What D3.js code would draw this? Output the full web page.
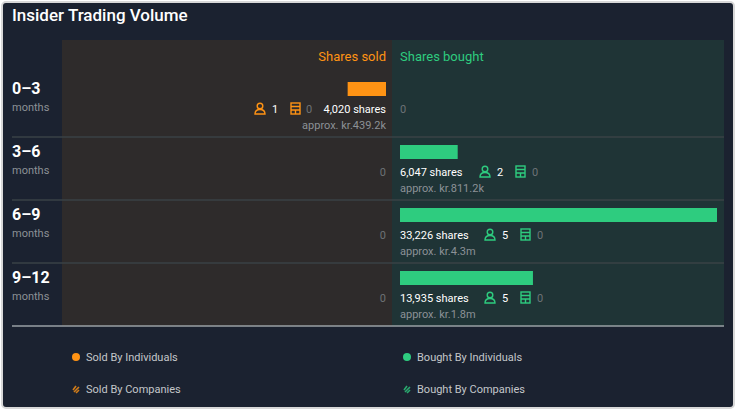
<!DOCTYPE html>
<html><head><meta charset="utf-8">
<script src="https://cdn.jsdelivr.net/npm/d3@7"></script>
<style>
body{margin:0;background:#fff;font-family:Roboto,"Noto Sans",sans-serif;}
</style></head><body>
<svg id="chart" width="736" height="412"></svg>
<script>
const periods = ["0–3", "3–6", "6–9", "9–12"];
const soldShares = [4020, 0, 0, 0];
const boughtShares = [0, 6047, 33226, 13935];
const soldIndividuals = [1, 0, 0, 0];
const boughtIndividuals = [0, 2, 5, 5];
const soldValue = ["approx. kr.439.2k", "", "", ""];
const boughtValue = ["", "approx. kr.811.2k", "approx. kr.4.3m", "approx. kr.1.8m"];

const orange = "#ff9314", green = "#2ecc7f";
const svg = d3.select("#chart");
svg.append("rect").attr("x", 2).attr("y", 2).attr("width", 732).attr("height", 406)
  .attr("rx", 4).attr("fill", "#1b2230").attr("stroke", "#d8d8d8").attr("stroke-width", 2);

svg.append("text").attr("x", 12).attr("y", 21).attr("fill", "#fff")
  .attr("font-size", 17).attr("font-weight", 500).text("Insider Trading Volume");

const mid = 392, panelTop = 40, panelBottom = 326;
svg.append("rect").attr("x", 62).attr("y", panelTop).attr("width", mid - 62).attr("height", panelBottom - panelTop).attr("fill", "#2e2b2b");
svg.append("rect").attr("x", mid).attr("y", panelTop).attr("width", 724 - mid).attr("height", panelBottom - panelTop).attr("fill", "#1f3436");

svg.append("text").attr("x", 386).attr("y", 61).attr("text-anchor", "end").attr("fill", orange).attr("font-size", 13).text("Shares sold");
svg.append("text").attr("x", 400).attr("y", 61).attr("fill", green).attr("font-size", 13).text("Shares bought");

const y = d3.scaleBand().domain(periods).range([74, 326]);
const maxV = d3.max(boughtShares.concat(soldShares));
const xb = d3.scaleLinear().domain([0, maxV]).range([400, 717]);
const xs = d3.scaleLinear().domain([0, maxV]).range([386, 69]);
const fmt = d3.format(",");

function person(g, x, yy, c) {
  const p = g.append("g").attr("transform", `translate(${x},${yy})`).attr("fill", "none").attr("stroke", c).attr("stroke-width", 1.4);
  p.append("circle").attr("cx", 5).attr("cy", -8).attr("r", 2.8);
  p.append("path").attr("d", "M0,0 Q0,-4.5 5,-4.5 Q10,-4.5 10,0 Z");
}
function building(g, x, yy, c) {
  const b = g.append("g").attr("transform", `translate(${x},${yy})`).attr("fill", "none").attr("stroke", c).attr("stroke-width", 1.4);
  b.append("rect").attr("x", 0).attr("y", -11).attr("width", 9).attr("height", 11);
  b.append("path").attr("d", "M0,-7.5H9M0,-4H9M4.5,-4V0");
}

periods.forEach((p, i) => {
  const t = y(p);
  const g = svg.append("g");
  if (i > 0) g.append("line").attr("x1", 12).attr("x2", 724).attr("y1", t).attr("y2", t).attr("stroke", "#3a4246").attr("stroke-width", 1.5);
  g.append("text").attr("x", 12).attr("y", t + 20).attr("fill", "#fff").attr("font-size", 16).attr("font-weight", 700).text(p);
  g.append("text").attr("x", 12).attr("y", t + 37).attr("fill", "#8c9196").attr("font-size", 11).text("months");
  // sold side
  if (soldShares[i] > 0) {
    g.append("rect").attr("x", xs(soldShares[i])).attr("y", t + 8).attr("width", xs(0) - xs(soldShares[i])).attr("height", 14).attr("fill", orange);
    g.append("text").attr("x", 386).attr("y", t + 39).attr("text-anchor", "end").attr("fill", "#fff").attr("font-size", 11).text(fmt(soldShares[i]) + " shares");
    g.append("text").attr("x", 386).attr("y", t + 55).attr("text-anchor", "end").attr("fill", "#8c9196").attr("font-size", 11).text(soldValue[i]);
    building(g, 291, t + 40, orange);
    g.append("text").attr("x", 306).attr("y", t + 39).attr("fill", "#6d7276").attr("font-size", 11).text("0");
    person(g, 255, t + 40, orange);
    g.append("text").attr("x", 272).attr("y", t + 39).attr("fill", "#fff").attr("font-size", 11).text(soldIndividuals[i]);
  } else {
    g.append("text").attr("x", 386).attr("y", t + 39).attr("text-anchor", "end").attr("fill", "#6d7276").attr("font-size", 11).text("0");
  }
  // bought side
  if (boughtShares[i] > 0) {
    g.append("rect").attr("x", xb(0)).attr("y", t + 8).attr("width", xb(boughtShares[i]) - xb(0)).attr("height", 14).attr("fill", green);
    g.append("text").attr("x", 400).attr("y", t + 39).attr("fill", "#fff").attr("font-size", 11).text(fmt(boughtShares[i]) + " shares");
    g.append("text").attr("x", 400).attr("y", t + 55).attr("fill", "#8c9196").attr("font-size", 11).text(boughtValue[i]);
    const px = boughtShares[i] >= 10000 ? 485 : 480;
    person(g, px, t + 40, green);
    g.append("text").attr("x", px + 17).attr("y", t + 39).attr("fill", "#fff").attr("font-size", 11).text(boughtIndividuals[i]);
    building(g, px + 36, t + 40, green);
    g.append("text").attr("x", px + 52).attr("y", t + 39).attr("fill", "#6d7276").attr("font-size", 11).text("0");
  } else {
    g.append("text").attr("x", 400).attr("y", t + 39).attr("fill", "#6d7276").attr("font-size", 11).text("0");
  }
});
svg.append("line").attr("x1", 12).attr("x2", 724).attr("y1", 326).attr("y2", 326).attr("stroke", "#9aa0a4").attr("stroke-width", 1.5);

const legend = [
  {label: "Sold By Individuals", c: orange, x: 76, y: 357, dot: true},
  {label: "Bought By Individuals", c: green, x: 407, y: 357, dot: true},
  {label: "Sold By Companies", c: orange, x: 76, y: 389, dot: false},
  {label: "Bought By Companies", c: green, x: 407, y: 389, dot: false}
];
legend.forEach(l => {
  if (l.dot) svg.append("circle").attr("cx", l.x).attr("cy", l.y).attr("r", 4).attr("fill", l.c);
  else svg.append("path").attr("d", `M${l.x-3},${l.y+1}L${l.x},${l.y-3}M${l.x-2},${l.y+3}L${l.x+3},${l.y-2}M${l.x},${l.y+4}L${l.x+3},${l.y+1}`)
    .attr("stroke", l.c).attr("stroke-width", 1.6).attr("opacity", 0.8);
  svg.append("text").attr("x", l.x + 10).attr("y", l.y + 4).attr("fill", "#c4c7ca").attr("font-size", 11).text(l.label);
});
</script></body></html>
